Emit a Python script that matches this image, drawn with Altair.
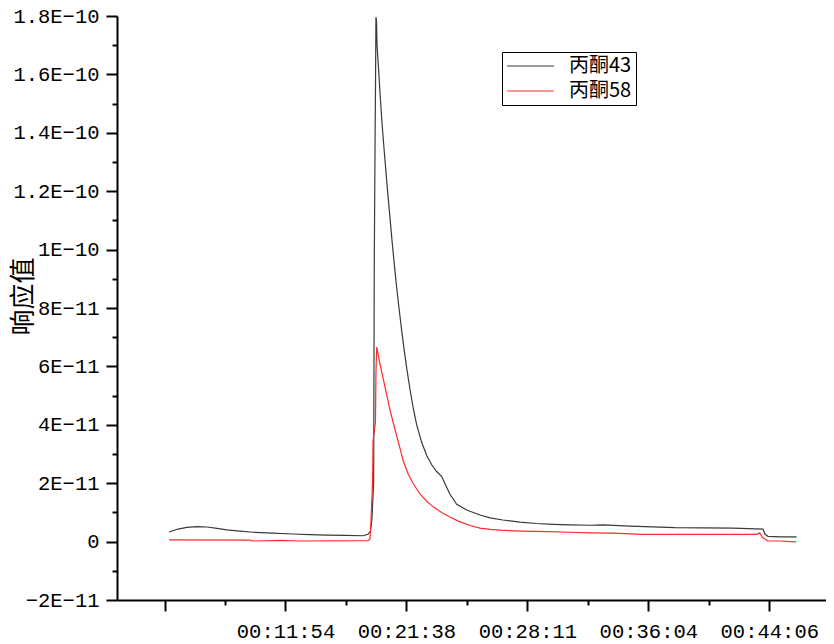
import json
import altair as alt
import pandas as pd

# ---- data (x = sample index, y in units of 1E-12) ----
series_names = ["丙酮43", "丙酮58"]
series_colors = ["#3a3a3a", "#ff2a2a"]

x43 = [3.7, 11.2, 18.4, 26.9, 35.1, 43.4, 51.4, 62.4, 73.1, 89.7,
       106.2, 120.2, 134.3, 149.2, 164.0, 168.2, 170.3, 171.5, 172.9, 173.4,
       174.0, 174.4, 174.8, 175.3, 175.7, 177.1, 178.4, 179.8, 181.2, 182.6,
       183.9, 185.4, 186.7, 188.1, 189.5, 190.8, 192.2, 194.0, 196.0, 198.0,
       200.2, 203.0, 205.7, 208.5, 212.6, 216.8, 220.9, 225.0, 229.2, 231.9,
       236.0, 241.6, 249.8, 260.8, 269.1, 279.8, 293.9, 307.7, 321.1, 335.2,
       351.7, 362.5, 384.8, 422.0, 470.0, 494.8, 496.4, 498.9, 508.8, 522.6]
y43 = [3.3, 4.3, 4.9, 5.1, 5.0, 4.5, 4.0, 3.6, 3.2, 2.9,
       2.6, 2.4, 2.2, 2.1, 2.0, 2.5, 3.6, 7.7, 20.6, 94.3,
       132.6, 154.7, 179.6, 178.0, 170.0, 161.0, 152.0, 143.5, 136.0, 129.0,
       122.5, 115.5, 109.5, 103.0, 97.0, 91.5, 86.0, 79.5, 72.5, 66.0,
       59.5, 52.0, 45.5, 40.0, 34.0, 29.5, 26.3, 24.0, 22.3, 19.8,
       16.2, 12.8, 10.8, 9.1, 8.1, 7.4, 6.7, 6.2, 5.9, 5.7,
       5.6, 5.7, 5.3, 4.8, 4.6, 4.3, 2.6, 1.8, 1.6, 1.6]

x58 = [3.7, 70.7, 73.1, 95.5, 112.0, 168.2, 169.9, 170.7, 172.0, 172.4,
       174.4, 174.8, 175.4, 178.2, 182.3, 186.4, 190.6, 194.7, 197.4, 201.6,
       205.7, 211.2, 216.8, 222.2, 229.2, 236.0, 242.9, 252.6, 260.8, 269.1,
       277.4, 293.9, 316.0, 335.2, 351.7, 370.7, 395.5, 489.7, 492.1, 494.5,
       498.9, 508.8, 522.1]
y58 = [0.6, 0.5, 0.2, 0.4, 0.2, 0.3, 0.9, 7.0, 20.6, 34.5,
       41.0, 57.6, 66.6, 60.7, 52.9, 45.1, 38.3, 31.9, 27.6, 23.0,
       19.8, 16.3, 13.8, 11.9, 10.0, 8.4, 7.0, 5.5, 4.6, 4.2,
       3.9, 3.6, 3.4, 3.2, 3.0, 2.9, 2.5, 2.5, 3.0, 1.4,
       0.2, 0.2, -0.1]

x_major = [0, 100, 200, 300, 400, 500]
x_minor = [50, 150, 250, 350, 450, 550]
x_tick_labels = ["", "00:11:54", "00:21:38", "00:28:11", "00:36:04", "00:44:06"]
x_domain = [-39.3, 546.9]

y_major = [-20, 0, 20, 40, 60, 80, 100, 120, 140, 160, 180]
y_minor = [-10, 10, 30, 50, 70, 90, 110, 130, 150, 170]
y_tick_labels = ["−2E−11", "0", "2E−11", "4E−11", "6E−11", "8E−11",
                 "1E−10", "1.2E−10", "1.4E−10", "1.6E−10", "1.8E−10"]
y_domain = [-20, 180]

rows = []
for xs, ys, name in [(x43, y43, series_names[0]), (x58, y58, series_names[1])]:
    for i, (a, b) in enumerate(zip(xs, ys)):
        rows.append({"idx": a, "resp": b, "series": name, "order": i})
df = pd.DataFrame(rows)

x_label_expr = f"{json.dumps(x_tick_labels, ensure_ascii=False)}[round(datum.value/100)]"
y_label_expr = f"{json.dumps(y_tick_labels, ensure_ascii=False)}[round((datum.value+20)/20)]"

tick_font = "Liberation Mono"

x_scale = alt.Scale(domain=x_domain, nice=False, zero=False)
y_scale = alt.Scale(domain=y_domain, nice=False, zero=False)

main = alt.Chart(df).mark_line(strokeWidth=1.2).encode(
    x=alt.X("idx:Q", scale=x_scale,
            axis=alt.Axis(orient="bottom", values=x_major, labelExpr=x_label_expr,
                          title=None, grid=False, tickSize=11, tickWidth=2,
                          tickColor="black", domainColor="black", domainWidth=2,
                          labelFont=tick_font, labelFontSize=20.5, labelColor="black",
                          labelPadding=10, labelFlush=False, labelOverlap=False)),
    y=alt.Y("resp:Q", scale=y_scale,
            axis=alt.Axis(orient="left", values=y_major, labelExpr=y_label_expr,
                          title="响应值", titleFont="Noto Sans CJK SC", titleFontSize=26,
                          titleFontWeight="normal", titleColor="black",
                          titleX=-94, titleY=280, titleAngle=270,
                          titleAlign="center", titleBaseline="middle",
                          grid=False, tickSize=11, tickWidth=2,
                          tickColor="black", domainColor="black", domainWidth=2,
                          labelFont=tick_font, labelFontSize=20.5, labelColor="black",
                          labelPadding=7, labelFlush=False, labelOverlap=False)),
    color=alt.Color("series:N",
                    scale=alt.Scale(domain=series_names, range=series_colors),
                    legend=alt.Legend(orient="none", legendX=385, legendY=36,
                                      title=None, symbolType="M-1.125,0H4.75",
                                      symbolSize=256, symbolStrokeWidth=1,
                                      labelFont="Noto Sans CJK SC", labelFontSize=20,
                                      labelColor="black", labelOffset=43,
                                      padding=4, rowPadding=5,
                                      strokeColor="black", fillColor="white")),
    order="order:Q",
)

minor = alt.Chart(df).mark_line(strokeOpacity=0).encode(
    x=alt.X("idx:Q", scale=x_scale,
            axis=alt.Axis(orient="bottom", values=x_minor, labels=False, title=None,
                          grid=False, domain=False, tickSize=5, tickWidth=2,
                          tickColor="black")),
    y=alt.Y("resp:Q", scale=y_scale,
            axis=alt.Axis(orient="left", values=y_minor, labels=False, title=None,
                          grid=False, domain=False, tickSize=5, tickWidth=2,
                          tickColor="black")),
    detail="series:N",
    order="order:Q",
)

chart = alt.layer(main, minor).resolve_axis(
    x="independent", y="independent"
).properties(
    width=709, height=584,
    autosize=alt.AutoSizeParams(type="none"),
    padding={"left": 109, "top": 8, "right": 0, "bottom": 44},
    background="white",
).configure_view(stroke=None).configure_legend(strokeWidth=1)

chart.save("out.html", embed_options={"renderer": "svg", "actions": False})
